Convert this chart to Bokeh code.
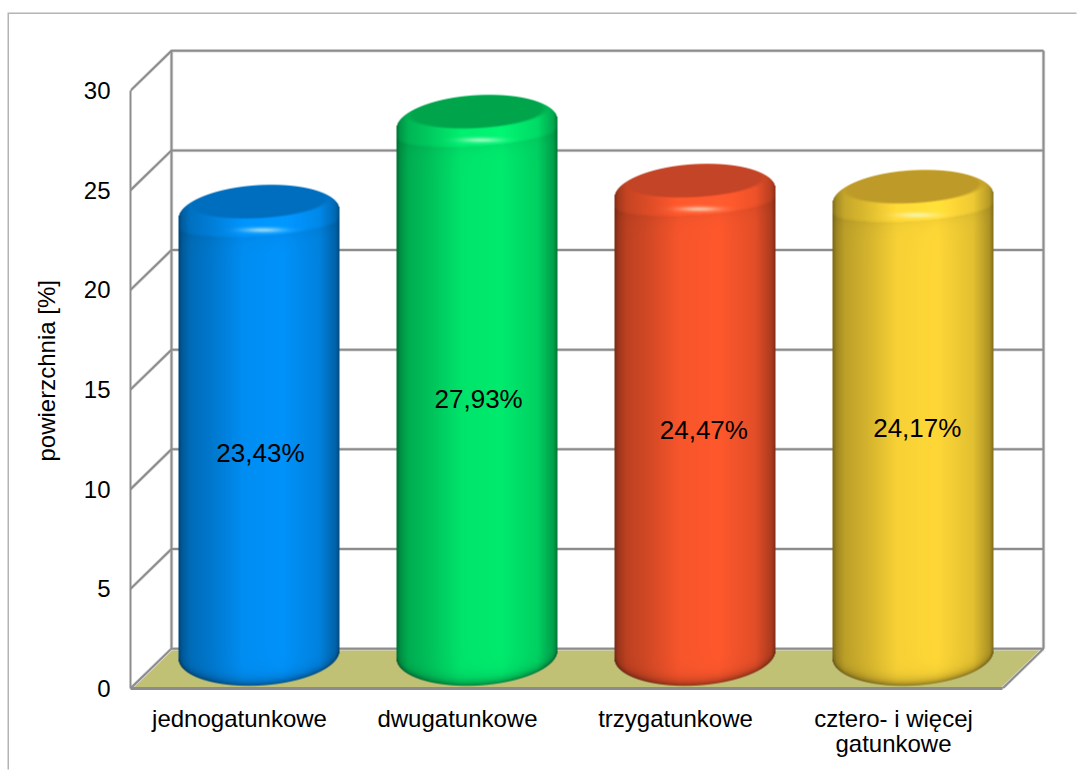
import numpy as np
from bokeh.plotting import figure
from bokeh.embed import file_html
from bokeh.resources import INLINE
from bokeh.models import Range1d, FixedTicker, Title
from bokeh.core.properties import value

categories = ["jednogatunkowe", "dwugatunkowe", "trzygatunkowe", "cztero- i więcej\ngatunkowe"]
surface = [23.43, 27.93, 24.47, 24.17]
surface_labels = ["23,43%", "27,93%", "24,47%", "24,17%"]
y_ticks = [0, 5, 10, 15, 20, 25, 30]

# styling / layout (separate from data)
body_rgb = [(0, 146, 250), (0, 235, 110), (255, 88, 45), (255, 216, 55)]
cap_rgb = [(0, 110, 190), (0, 165, 75), (195, 68, 38), (190, 155, 40)]
label_x = [0.596, 1.597, 2.63, 3.609]
label_y = [11.84, 14.55, 12.95, 13.05]
FONT = "Liberation Sans"
GRID = "#8c8c8c"
HALO = "#dcdcdc"
FLOOR = "#c1c176"
M_LEFT, M_TOP = 9, 14         # figure offset inside the page, leaves room for the frame
W, H = 1078 - M_LEFT, 771 - M_TOP
PX_X, PX_Y = 218.0, 19.93     # pixels per data unit
DX, DY = 41 / PX_X, 2.0       # depth of the 3-D box, data units
LEFT, TOP = 130 - M_LEFT, 40 - M_TOP
F_W, F_H = 920, 648

p = figure(width=W, height=H, output_backend="svg", toolbar_location=None,
           x_range=Range1d(0, F_W / PX_X), y_range=Range1d(0, F_H / PX_Y),
           min_border_left=LEFT, min_border_top=TOP,
           min_border_right=W - LEFT - F_W, min_border_bottom=H - TOP - F_H,
           x_axis_location="below", y_axis_location="left",
           background_fill_color="white", border_fill_color="white")
p.outline_line_color = None
p.grid.visible = False
# thin frame along the top and left of the chart area
p.margin = (M_TOP, 0, 0, M_LEFT)
p.styles = {"box-shadow": "-1.5px -1.5px 0 0 #b4b4b4"}

# floor
p.patch([0, 4, 4 + DX, DX], [0, 0, DY, DY], fill_color=FLOOR, line_color=None)

# 3-D walls
xs, ys = [], []
for t in y_ticks:
    xs.append([0, DX, 4 + DX]); ys.append([t, t + DY, t + DY])
xs.append([DX, DX]); ys.append([DY, 30 + DY])
xs.append([4 + DX, 4 + DX]); ys.append([DY, 30 + DY])
xs.append([4, 4 + DX]); ys.append([0, DY])
p.multi_line(xs, ys, line_color=HALO, line_width=3.5)
p.multi_line(xs, ys, line_color=GRID, line_width=2)

# cylinders
def shade(val, rgb, cap):
    w = 161
    top_m, bot_m = 18, 20
    T = top_m
    Hb = int(round(val * PX_Y)) + T
    h = Hb + bot_m
    px = np.arange(w) + 0.5
    py = np.arange(h) + 0.5
    X, Y = np.meshgrid(px, py)
    u = np.clip((X - w / 2) / (w / 2), -1, 1)
    s = np.sqrt(1 - u ** 2)
    ts = T + 12.5 - 29 * s - 4.5 * u
    bs = Hb - 14 + 31 * s - 4 * u
    alpha = np.clip(Y - ts + 0.5, 0, 1) * np.clip(bs - Y + 0.5, 0, 1)
    f = np.interp(u, [-1, -0.95, -0.85, -0.6, -0.2, 0.3, 0.75, 0.95, 1],
                  [0.47, 0.62, 0.74, 0.82, 0.97, 1.0, 0.89, 0.68, 0.5])
    L = T + 22 + 13 * s - 5 * u
    d = Y - L
    band = np.where(d < 0, 1 + 0.05 * np.clip(-d / 3, 0, 1),
                    1 - 0.04 * np.exp(-np.clip(d, 0, None) / 6))
    dbot = np.clip(bs - Y, 0, None) / (0.35 + 0.65 * s)
    bott = 1 - 0.45 * np.exp(-dbot / 5)
    fac = (f * band * bott)[..., None]
    col = np.array(rgb, float)[None, None, :] * fac
    # inner darker top disc
    dx = X - w / 2
    yp = Y - T + 0.05 * dx
    rho = np.sqrt((dx / 69) ** 2 + (yp / 16.5) ** 2)
    mix = np.clip((1 - rho) * 8 + 0.5, 0, 1)[..., None]
    col = col * (1 - mix) + np.array(cap, float)[None, None, :] * mix
    # specular highlight on the front rim
    hl = 0.6 * np.exp(-((dx - 4) / 20) ** 2 - ((Y - T - 28.5) / 2.6) ** 2)[..., None]
    col = col * (1 - hl) + np.array([235, 255, 235], float)[None, None, :] * hl
    img = np.zeros((h, w), dtype=np.uint32)
    view = img.view(np.uint8).reshape((h, w, 4))
    view[..., :3] = np.clip(col, 0, 255).astype(np.uint8)
    view[..., 3] = (alpha * 255).astype(np.uint8)
    return np.flipud(img), w, h, top_m, bot_m

centers = [i + 0.5 + DX / 2 for i in range(4)]
base = DY / 2
# plain bars underneath, the shaded body goes on top
p.vbar(x=centers, bottom=base, top=[base + v for v in surface], width=0.6,
       fill_color=["#%02x%02x%02x" % c for c in body_rgb], line_color=None)
for c, v, rgb, cap in zip(centers, surface, body_rgb, cap_rgb):
    img, w, h, tm, bm = shade(v, rgb, cap)
    p.image_rgba(image=[img], x=c - 0.5 * w / PX_X - 1 / PX_X, y=base - bm / PX_Y,
                 dw=w / PX_X, dh=h / PX_Y)

p.text(x=label_x, y=label_y, text=surface_labels, text_font=value(FONT),
       text_font_size="26px", text_color="black", text_align="center",
       text_baseline="middle")

# axes
xa = p.xaxis[0]
xa.ticker = FixedTicker(ticks=[i + 0.5 for i in range(4)])
xa.major_label_overrides = {i + 0.5: c for i, c in enumerate(categories)}
xa.bounds = (0, 4)
xa.axis_line_color = GRID
xa.axis_line_width = 3
xa.major_tick_line_color = None
xa.minor_tick_line_color = None
xa.major_label_text_font = FONT
xa.major_label_text_font_size = "24px"
xa.major_label_text_color = "black"
xa.major_label_text_line_height = 0.93
xa.major_label_standoff = 10

ya = p.yaxis[0]
ya.ticker = FixedTicker(ticks=y_ticks)
ya.bounds = (0, 30)
ya.axis_line_color = GRID
ya.axis_line_width = 2
ya.major_tick_line_color = None
ya.minor_tick_line_color = None
ya.major_label_text_font = FONT
ya.major_label_text_font_size = "24px"
ya.major_label_text_color = "black"
ya.major_label_standoff = 14

p.add_layout(Title(text="powierzchnia [%]", align="left", offset=227, standoff=41,
                   text_font=FONT, text_font_style="normal", text_font_size="24px",
                   text_color="black"), "left")

open("out.html", "w").write(file_html(p, INLINE))
